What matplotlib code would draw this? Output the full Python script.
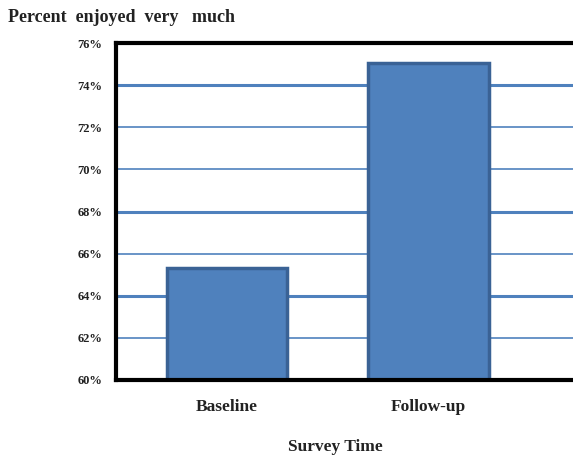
import numpy as np
import matplotlib.pyplot as plt
from matplotlib.ticker import FuncFormatter

# data
categories = ['Baseline', 'Follow-up']
percent_enjoyed = [65.3, 75.05]
y_ticks = [60, 62, 64, 66, 68, 70, 72, 74, 76]

plt.rcParams['font.family'] = ['Liberation Serif', 'DejaVu Serif']
plt.rcParams['font.weight'] = 'bold'

fig = plt.figure(figsize=(5.73, 4.59), dpi=100)
ax = fig.add_axes([116 / 573, 1 - 380 / 459, 1 - 116 / 573, 337 / 459])

# gridlines, some drawn heavier like the original
heavy = {64, 68, 74}
for t in y_ticks[1:-1]:
    ax.axhline(t, color='#4f81bd', lw=2.2 if t in heavy else 1.2, zorder=1)

x = np.arange(len(categories))
ax.bar(x, percent_enjoyed, width=0.6, bottom=0, color='#4f81bd',
       edgecolor='#3a6295', linewidth=2.5, zorder=2)

ax.set_ylim(60, 76)
ax.set_xlim(-0.552, 1.719)
ax.set_yticks(y_ticks)
ax.yaxis.set_major_formatter(FuncFormatter(lambda v, p: f'{v:.0f}%'))
ax.set_xticks(x)
ax.set_xticklabels(categories, fontsize=12.5)
ax.tick_params(axis='y', length=0, labelsize=9, pad=10, colors='#222222')
ax.tick_params(axis='x', length=0, pad=14, colors='#222222')

for side in ['left', 'top', 'bottom']:
    ax.spines[side].set_linewidth(3)
    ax.spines[side].set_color('black')
    ax.spines[side].set_zorder(3)
ax.spines['right'].set_visible(False)

ax.set_xlabel('Survey Time', fontsize=12.5, fontweight='bold', color='#222222')
ax.xaxis.set_label_coords((335 - 116) / 457, -(447 - 380) / 337)
ax.xaxis.label.set_va('center')
fig.text(8 / 573, 1 - 18 / 459, 'Percent  enjoyed  very   much', fontsize=13,
         fontweight='bold', va='center', ha='left', color='#222222')

fig.savefig('out.png', dpi=100)
